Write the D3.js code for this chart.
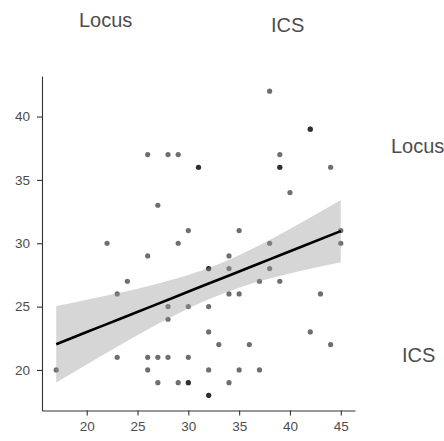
<!DOCTYPE html>
<html>
<head>
<meta charset="utf-8">
<script src="https://cdn.jsdelivr.net/npm/d3@7"></script>
<style>
  html, body { margin: 0; padding: 0; background: #fff; }
  svg { display: block; }
</style>
</head>
<body>
<svg id="chart" width="444" height="441"></svg>
<script>
// ---- data ----
const locus = [17,22,23,23,24,26,26,26,26,27,27,27,28,28,28,28,29,29,29,30,30,30,30,30,31,31,32,32,32,32,32,32,32,33,34,34,34,34,35,35,35,36,37,37,38,38,38,39,39,39,39,40,42,42,42,43,44,44,45,45];
const ics   = [20,30,26,21,27,37,29,21,20,33,21,19,37,25,24,21,37,30,19,31,25,21,19,19,36,36,28,28,25,23,20,18,18,22,29,28,26,19,31,26,20,22,27,20,42,30,28,37,36,36,27,34,39,39,23,26,36,22,31,30];
// fitted line and 95% band
const smoothX     = [17, 20, 23, 26, 29, 32, 35, 38, 41, 45];
const smoothFit   = [22.03, 22.99, 23.94, 24.90, 25.86, 26.82, 27.77, 28.73, 29.69, 30.96];
const smoothLower = [19.01, 20.44, 21.83, 23.19, 24.46, 25.58, 26.49, 27.21, 27.81, 28.51];
const smoothUpper = [25.05, 25.54, 26.05, 26.61, 27.26, 28.05, 29.06, 30.25, 31.57, 33.41];
const xTicks = [20, 25, 30, 35, 40, 45];
const yTicks = [20, 25, 30, 35, 40];
const xDomain = [15.6, 46.4];
const yDomain = [16.8, 43.2];

const svg = d3.select("#chart");
const x = d3.scaleLinear().domain(xDomain).range([42, 355]);
const y = d3.scaleLinear().domain(yDomain).range([410.5, 76]);

const points = locus.map((d, i) => ({x: d, y: ics[i]}));
svg.append("g").selectAll("circle").data(points).join("circle")
  .attr("cx", d => x(d.x)).attr("cy", d => y(d.y)).attr("r", 2.6)
  .attr("fill", "#000").attr("fill-opacity", 0.57);

const band = smoothX.map((d, i) => ({x: d, lo: smoothLower[i], hi: smoothUpper[i], f: smoothFit[i]}));
svg.append("path").datum(band)
  .attr("d", d3.area().x(d => x(d.x)).y0(d => y(d.lo)).y1(d => y(d.hi)).curve(d3.curveMonotoneX))
  .attr("fill", "#999").attr("fill-opacity", 0.4);
svg.append("path").datum(band)
  .attr("d", d3.line().x(d => x(d.x)).y(d => y(d.f)).curve(d3.curveMonotoneX))
  .attr("fill", "none").attr("stroke", "#000").attr("stroke-width", 2.6);

const fontFam = "'Liberation Sans', Arial, sans-serif";
const xAxis = svg.append("g").attr("transform", "translate(0,410.5)")
  .call(d3.axisBottom(x).tickValues(xTicks).tickSize(5).tickSizeOuter(0).tickPadding(6));
const yAxis = svg.append("g").attr("transform", "translate(42,0)")
  .call(d3.axisLeft(y).tickValues(yTicks).tickSize(5).tickSizeOuter(0).tickPadding(7));
[xAxis, yAxis].forEach(g => {
  g.select(".domain").attr("stroke", "#333").attr("stroke-width", 1.1);
  g.selectAll(".tick line").attr("stroke", "#333").attr("stroke-width", 1.1);
  g.selectAll(".tick text").attr("fill", "#4d4d4d").style("font-size", "13.5px").style("font-family", fontFam);
});

const labels = [
  {t: "Locus", x: 79,  y: 27},
  {t: "ICS",   x: 271, y: 32},
  {t: "Locus", x: 391, y: 153},
  {t: "ICS",   x: 402, y: 362}
];
svg.append("g").selectAll("text").data(labels).join("text")
  .attr("x", d => d.x).attr("y", d => d.y).text(d => d.t)
  .attr("fill", "#4d4d4d").style("font-size", "20px").style("font-family", fontFam);
</script>
</body>
</html>
